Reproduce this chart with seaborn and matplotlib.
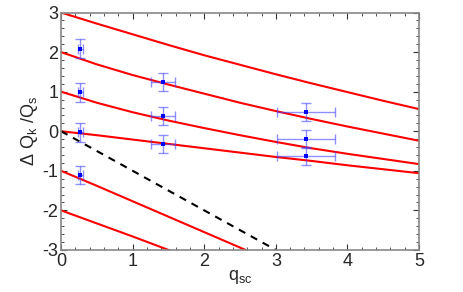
import numpy as np
import pandas as pd
import matplotlib
matplotlib.use('Agg')
import matplotlib.pyplot as plt
import seaborn as sns
from matplotlib.ticker import MultipleLocator

# red curves, values (q_sc, dQ/Qs), one per mode k
q_k3 = [0, 0.5, 1, 1.5, 2, 2.5, 3, 3.5, 4, 4.5, 5]
dq_k3 = [3.0, 2.72, 2.45, 2.18, 1.92, 1.68, 1.44, 1.21, 0.99, 0.77, 0.56]
q_k2 = [0, 0.5, 1, 1.5, 2, 2.5, 3, 3.5, 4, 4.5, 5]
dq_k2 = [2.0, 1.69, 1.42, 1.18, 0.95, 0.72, 0.51, 0.31, 0.12, -0.06, -0.24]
q_k1 = [0, 0.5, 1, 1.5, 2, 2.5, 3, 3.5, 4, 4.5, 5]
dq_k1 = [1.0, 0.72, 0.48, 0.27, 0.08, -0.1, -0.27, -0.43, -0.57, -0.7, -0.83]
q_k0 = [0, 0.5, 1, 1.5, 2, 2.5, 3, 3.5, 4, 4.5, 5]
dq_k0 = [0.0, -0.1, -0.21, -0.32, -0.43, -0.54, -0.65, -0.75, -0.86, -0.96, -1.06]
q_km1 = [0, 0.5, 1, 1.5, 2, 2.5, 3]
dq_km1 = [-1.0, -1.38, -1.77, -2.16, -2.55, -2.94, -3.33]
q_km2 = [0, 0.5, 1, 1.5, 2]
dq_km2 = [-2.0, -2.33, -2.66, -3.0, -3.34]

# dashed line dQ = -q
q_dash = [0, 3]
dq_dash = [0, -3]

# measured points
meas_q = [0.27, 0.27, 0.27, 0.27, 1.42, 1.42, 1.42, 3.42, 3.42, 3.42]
meas_dq = [2.09, 0.98, -0.02, -1.11, 1.24, 0.38, -0.32, 0.49, -0.2, -0.63]
meas_qerr = [0.03, 0.03, 0.03, 0.03, 0.17, 0.17, 0.17, 0.41, 0.41, 0.41]
meas_dqerr = [0.24, 0.23, 0.24, 0.23, 0.23, 0.23, 0.23, 0.23, 0.23, 0.23]

sns.set_style('ticks')
plt.rcParams['font.family'] = ['Liberation Sans', 'DejaVu Sans']
plt.rcParams['mathtext.fontset'] = 'custom'
plt.rcParams['mathtext.rm'] = 'Liberation Sans'
plt.rcParams['mathtext.it'] = 'Liberation Sans'
plt.rcParams['axes.unicode_minus'] = False

fig = plt.figure(figsize=(4.63, 2.92), dpi=100)
ax = fig.add_axes([0.132, 0.144, 0.773, 0.813])

curves = [(q_k3, dq_k3), (q_k2, dq_k2), (q_k1, dq_k1), (q_k0, dq_k0),
          (q_km1, dq_km1), (q_km2, dq_km2)]
for qq, dd in curves:
    sns.lineplot(x=qq, y=dd, ax=ax, color='#ff0000', linewidth=1.5, zorder=2)

sns.lineplot(x=q_dash, y=dq_dash, ax=ax, color='black', linewidth=1.5,
             linestyle=(0, (3.5, 3)), zorder=2)

ax.errorbar(meas_q, meas_dq, xerr=meas_qerr, yerr=meas_dqerr, fmt='none',
            ecolor='#4444ff', alpha=0.6, elinewidth=1.0, capsize=3.5,
            capthick=1.0, zorder=3)
sns.scatterplot(x=meas_q, y=meas_dq, ax=ax, marker='s', s=12, color='#0000ff',
                edgecolor='#0000ff', linewidth=0, zorder=4)

ax.set_xlim(0, 5)
ax.set_ylim(-3, 3)
ax.xaxis.set_major_locator(MultipleLocator(1))
ax.xaxis.set_minor_locator(MultipleLocator(0.2))
ax.yaxis.set_major_locator(MultipleLocator(1))
ax.yaxis.set_minor_locator(MultipleLocator(0.2))
ax.tick_params(which='both', direction='in', top=True, right=True,
               labelsize=13, color='#333333')
ax.tick_params(which='major', length=4, width=0.8, pad=2)
ax.tick_params(which='minor', length=2, width=0.6)
for s in ax.spines.values():
    s.set_color('#888888')
    s.set_linewidth(1.2)

ax.set_xlabel('q$_{\\mathrm{sc}}$', fontsize=13, labelpad=-1)
ax.set_ylabel('$\\Delta$ Q$_{\\mathrm{k}}$ /Q$_{\\mathrm{s}}$', fontsize=13, labelpad=2)

fig.savefig('out.png', dpi=100)
